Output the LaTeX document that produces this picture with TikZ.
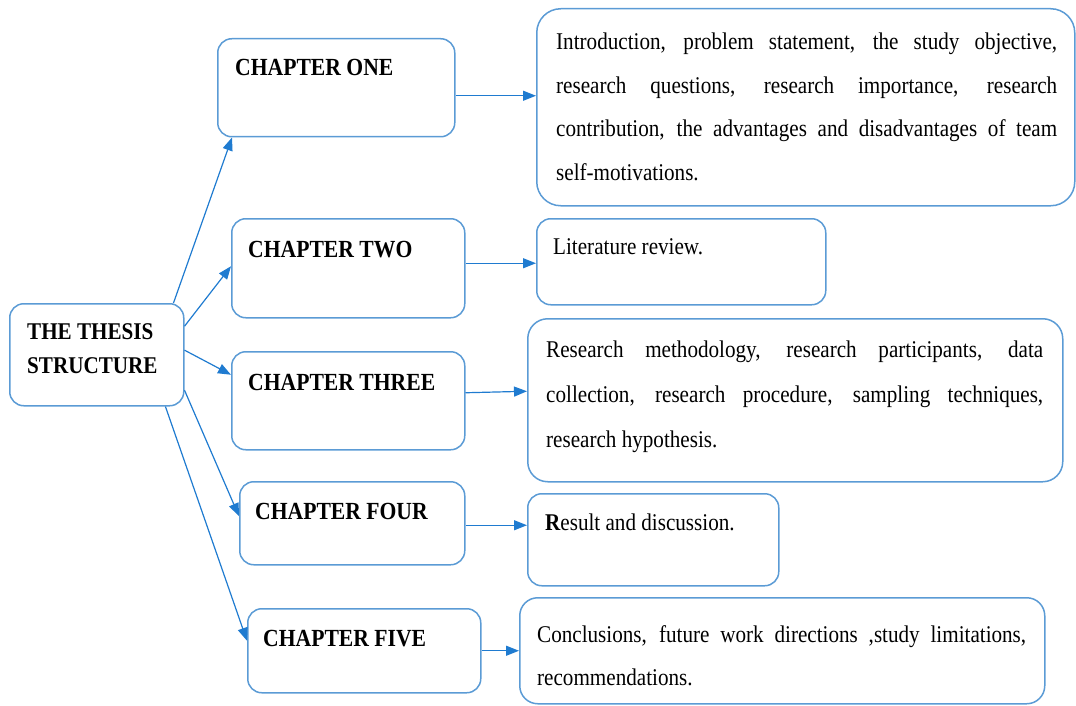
\documentclass[tikz,border=0pt]{standalone}
\usepackage{fontspec}
\setmainfont[FakeStretch=0.88]{Liberation Serif}
\usetikzlibrary{arrows.meta}
\definecolor{boxblue}{HTML}{5B9BD5}
\definecolor{arrblue}{HTML}{1F7BD0}
\newcommand{\ArrTip}{Triangle[length=13,width=10]}
\newcommand{\jline}[2]{\makebox[#1][s]{#2}}
\tikzset{box/.style={draw=boxblue,line width=1.5pt,rounded corners=14pt,anchor=north west,inner sep=0pt}}
\tikzset{chap/.style={anchor=base west,inner sep=0pt,font=\fontsize{24.6}{34}\selectfont\bfseries}}
\tikzset{desc/.style={anchor=base west,inner sep=0pt,font=\fontsize{24}{44}\selectfont}}
\tikzset{arr/.style={draw=arrblue,line width=1.2pt,-{\ArrTip}}}

\begin{document}
\begin{tikzpicture}[x=1pt,y=-1pt]
\useasboundingbox (0,0) rectangle (1076,706);
% boxes
\node[box,minimum width=174pt,minimum height=102pt] (th) at (9,303) {};
\node[box,minimum width=237pt,minimum height=98pt] (c1) at (217,38) {};
\node[box,minimum width=233pt,minimum height=99pt] (c2) at (231,218) {};
\node[box,minimum width=233pt,minimum height=98pt] (c3) at (231,351) {};
\node[box,minimum width=225pt,minimum height=83pt] (c4) at (239,481) {};
\node[box,minimum width=233pt,minimum height=84pt] (c5) at (247,608) {};
\node[box,rounded corners=24pt,minimum width=538pt,minimum height=197pt] (d1) at (536,8) {};
\node[box,minimum width=289pt,minimum height=86pt] (d2) at (536,218) {};
\node[box,rounded corners=20pt,minimum width=535pt,minimum height=163pt] (d3) at (527,318) {};
\node[box,minimum width=251pt,minimum height=92pt] (d4) at (527,493) {};
\node[box,rounded corners=18pt,minimum width=525pt,minimum height=106pt] (d5) at (519,597) {};
% texts
\node[chap,font=\fontsize{24}{34}\selectfont\bfseries] (tht) at (27,339) {\parbox[t]{150pt}{THE THESIS\\STRUCTURE}};
\node[chap] (c1t) at (235,76) {CHAPTER ONE};
\node[chap] (c2t) at (248,257) {CHAPTER TWO};
\node[chap] (c3t) at (248,390) {CHAPTER THREE};
\node[chap] (c4t) at (255,519) {CHAPTER FOUR};
\node[chap] (c5t) at (263,646) {CHAPTER FIVE};
\node[desc,font=\fontsize{24}{43.5}\selectfont] (d1t) at (556,50) {\parbox[t]{501pt}{\jline{501pt}{Introduction, problem statement, the study objective,}\\
 \jline{501pt}{research questions, research importance, research}\\
 \jline{501pt}{contribution, the advantages and disadvantages of team}\\
 self-motivations.}};
\node[desc] (d2t) at (553,254) {Literature review.};
\node[desc,font=\fontsize{24}{45}\selectfont] (d3t) at (546,357) {\parbox[t]{497pt}{\jline{497pt}{Research methodology, research participants, data}\\
 \jline{497pt}{collection, research procedure, sampling techniques,}\\
 research hypothesis.}};
\node[desc] (d4t) at (545,530) {{\bfseries R}esult and discussion.};
\node[desc,font=\fontsize{24}{43}\selectfont] (d5t) at (537,642) {\parbox[t]{489pt}{\jline{489pt}{Conclusions, future work directions ,study limitations,}\\
 recommendations.}};
% arrows
\draw[arr] (th.34)--([xshift=15pt]c1.south west);
\draw[arr] (th.18)--([yshift=2pt]c2.west);
\draw[arr] (th.3)--([yshift=26pt]c3.west);
\draw[arr] (th.-22)--([yshift=7pt]c4.west);
\draw[arr] (th.-37)--([yshift=10pt]c5.west);
\coordinate (a1) at ([yshift=-8pt]c1.east);\draw[arr] (a1)--(a1-|d1.west);
\coordinate (a2) at ([yshift=5pt]c2.east);\draw[arr] (a2)--(a2-|d2.west);
\draw[arr] ([yshift=8pt]c3.east)--([yshift=9pt]d3.west);
\coordinate (a4) at ([yshift=-2pt]c4.east);\draw[arr] (a4)--(a4-|d4.west);
\draw[arr] (c5.east)--(c5.east-|d5.west);
\end{tikzpicture}
\end{document}
